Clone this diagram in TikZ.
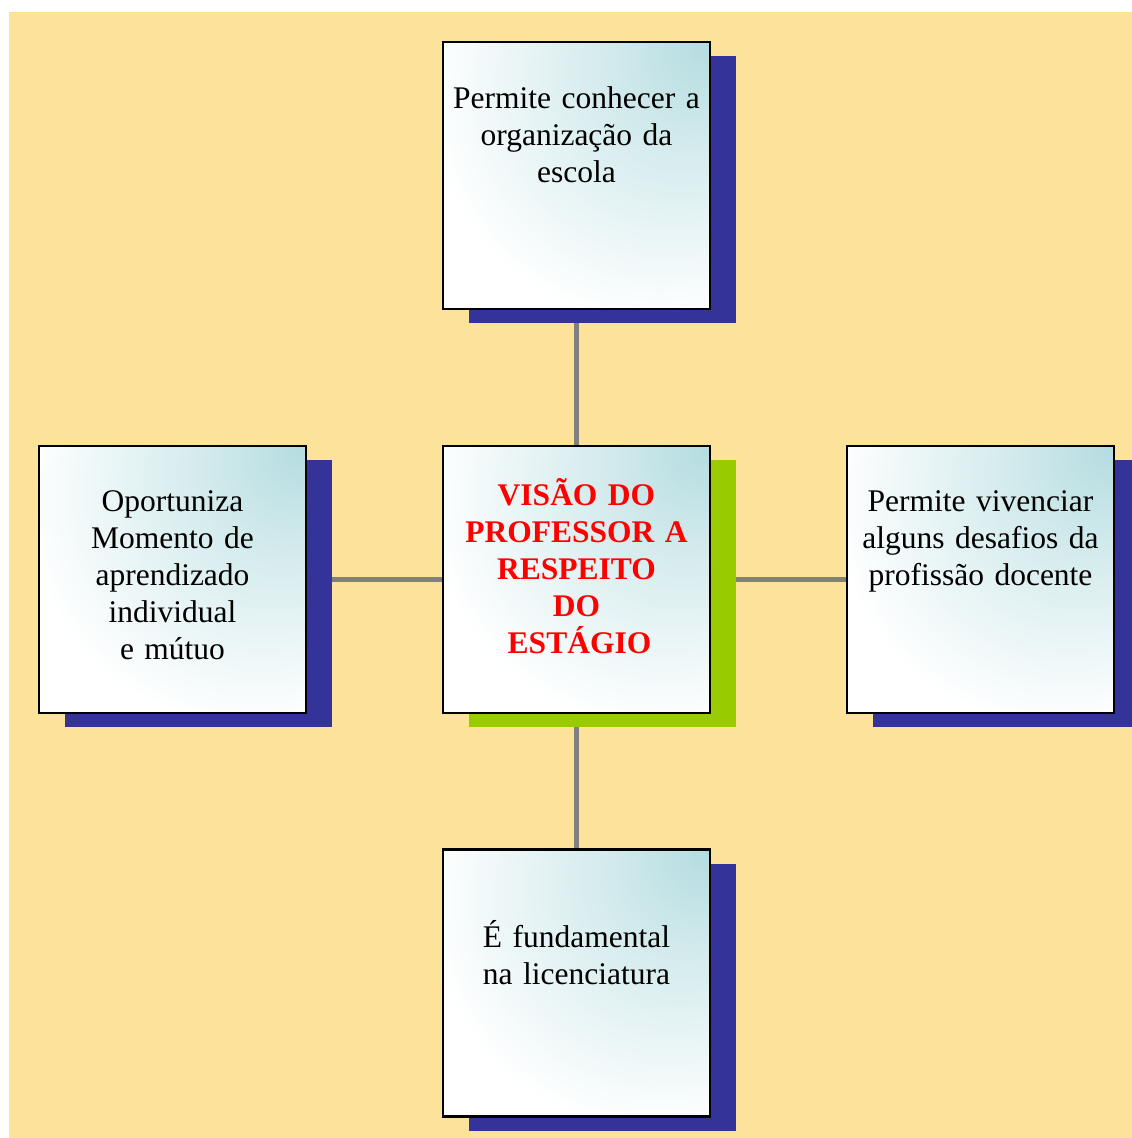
\documentclass[tikz,border=0pt]{standalone}
\usepackage{fontspec}
\setmainfont{Liberation Serif}
\usetikzlibrary{shadows,backgrounds}

\definecolor{paper}{RGB}{253,227,154}
\definecolor{shadowblue}{RGB}{51,51,153}
\definecolor{shadowgreen}{RGB}{153,204,0}
\definecolor{tint}{RGB}{180,220,224}
\definecolor{tintmid}{RGB}{212,235,237}
\definecolor{linkgray}{RGB}{128,128,128}
\definecolor{titlered}{RGB}{255,0,0}

% soft tint spreading from the upper right corner of each card
\pgfdeclareradialshading{cornerglow}{\pgfpoint{25bp}{25bp}}{%
  color(0bp)=(tint); color(16bp)=(tintmid); color(42bp)=(white); color(100bp)=(white)}

\tikzset{
  card/.style={draw=black, line width=2.2pt, minimum width=267pt, minimum height=267pt,
    inner sep=0pt, shading=cornerglow,
    general shadow={fill=#1, draw=none, shadow xshift=26pt, shadow yshift=-14pt}},
  card/.default=shadowblue,
  link/.style={draw=linkgray, line width=4.5pt},
  cardtext/.style={font=\fontsize{31.5}{37}\selectfont, text width=266pt, align=center,
    anchor=base, inner sep=0pt},
  titletext/.style={cardtext, font=\fontsize{31.5}{37}\selectfont\bfseries, text=titlered}
}

\begin{document}
\begin{tikzpicture}[x=1pt,y=-1pt]
\useasboundingbox (0,0) rectangle (1132,1138);

% cards
\node[card] (top) at (576.5,175.5) {};
\node[card=shadowgreen] (hub) at (576.5,579.5) {};
\node[card] (left) at (172.5,579.5) {};
\node[card] (right) at (980.5,579.5) {};
\node[card] (bottom) at (576.5,983) {};

% backdrop and links, kept behind the cards and their shadows
\begin{scope}[on background layer]
  \fill[paper] (9,12) rectangle (1132,1138);
  \draw[link] (top) -- (hub);
  \draw[link] (hub) -- (bottom);
  \draw[link] (left) -- (hub);
  \draw[link] (hub) -- (right);
\end{scope}

% card texts
\node[cardtext] (ttop) at (576.5,108) {Permite conhecer a\\organização da\\escola};
\node[titletext] (thub) at (576.5,505) {VISÃO DO\\PROFESSOR A\\RESPEITO\\DO\\\hspace*{6pt}ESTÁGIO};
\node[cardtext] (tleft) at (172.5,511) {Oportuniza\\Momento de\\aprendizado\\individual\\e mútuo};
\node[cardtext] (tright) at (980.5,511) {Permite vivenciar\\alguns desafios da\\profissão docente};
\node[cardtext] (tbottom) at (576.5,947) {É fundamental\\na licenciatura};
\end{tikzpicture}
\end{document}
